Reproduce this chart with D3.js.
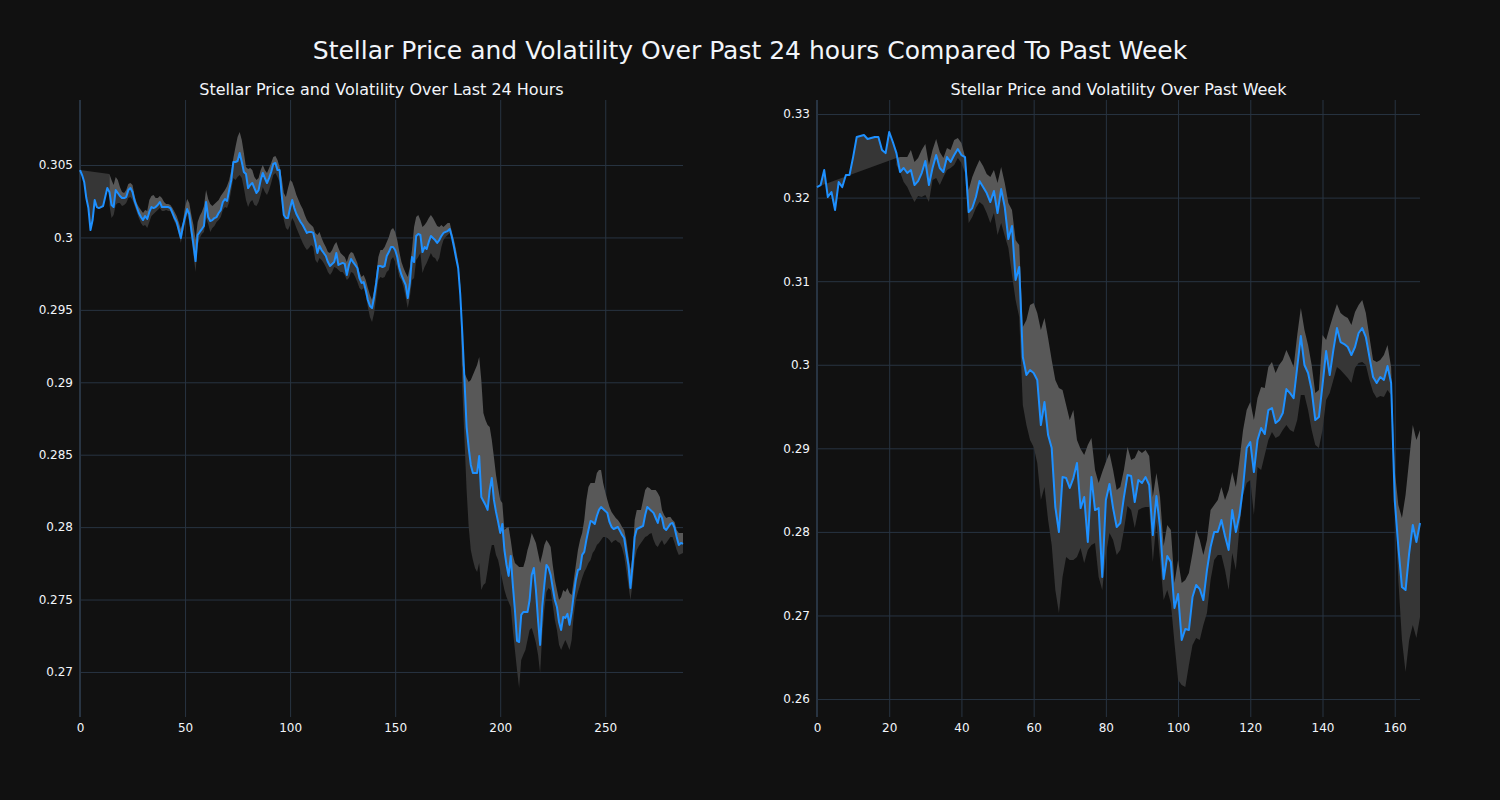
<!DOCTYPE html>
<html><head><meta charset="utf-8">
<script src="https://cdn.jsdelivr.net/npm/d3@7"></script>
<style>html,body{margin:0;background:#111111;}svg{display:block;}</style>
</head><body>
<svg id="chart" width="1500" height="800"></svg>
<script>
const mainTitle = "Stellar Price and Volatility Over Past 24 hours Compared To Past Week";
const dayTitle = "Stellar Price and Volatility Over Last 24 Hours";
const weekTitle = "Stellar Price and Volatility Over Past Week";

const dayXTicks = [0, 50, 100, 150, 200, 250];
const dayYTicks = [0.27, 0.275, 0.28, 0.285, 0.29, 0.295, 0.3, 0.305];
const weekXTicks = [0, 20, 40, 60, 80, 100, 120, 140, 160];
const weekYTicks = [0.26, 0.27, 0.28, 0.29, 0.3, 0.31, 0.32, 0.33];

const dayPrice = [0.30465,0.30431,0.30383,0.30272,0.30203,0.30051,0.30120,0.30258,0.30210,0.30203,
0.30210,0.30217,0.30279,0.30341,0.30314,0.30224,0.30210,0.30327,0.30307,0.30286,
0.30272,0.30272,0.30279,0.30327,0.30341,0.30314,0.30252,0.30210,0.30169,0.30141,
0.30120,0.30148,0.30127,0.30176,0.30210,0.30203,0.30210,0.30224,0.30245,0.30210,
0.30210,0.30210,0.30210,0.30203,0.30169,0.30134,0.30107,0.30051,0.29996,0.30079,
0.30141,0.30196,0.30162,0.30051,0.29948,0.29837,0.30017,0.30038,0.30058,0.30079,
0.30245,0.30141,0.30113,0.30120,0.30134,0.30141,0.30169,0.30189,0.30245,0.30265,
0.30252,0.30327,0.30397,0.30521,0.30521,0.30528,0.30583,0.30521,0.30452,0.30438,
0.30341,0.30362,0.30376,0.30341,0.30307,0.30327,0.30397,0.30445,0.30410,0.30376,
0.30410,0.30452,0.30507,0.30514,0.30465,0.30465,0.30293,0.30155,0.30134,0.30134,
0.30203,0.30258,0.30203,0.30162,0.30134,0.30107,0.30086,0.30058,0.30031,0.30038,
0.30038,0.30031,0.29969,0.29893,0.29941,0.29913,0.29893,0.29872,0.29830,0.29803,
0.29817,0.29830,0.29893,0.29810,0.29817,0.29824,0.29817,0.29741,0.29810,0.29851,
0.29830,0.29810,0.29789,0.29720,0.29686,0.29692,0.29637,0.29568,0.29527,0.29513,
0.29589,0.29686,0.29803,0.29803,0.29796,0.29803,0.29872,0.29899,0.29934,0.29934,
0.29913,0.29865,0.29789,0.29741,0.29706,0.29672,0.29582,0.29686,0.29865,0.29830,
0.30010,0.30024,0.30017,0.29899,0.29934,0.29920,0.29969,0.30010,0.29996,0.29982,
0.29962,0.29982,0.30010,0.30031,0.30038,0.30044,0.30058,0.30003,0.29934,0.29858,
0.29789,0.29603,0.29327,0.29016,0.28691,0.28547,0.28429,0.28374,0.28374,0.28374,
0.28491,0.28208,0.28181,0.28153,0.28119,0.28257,0.28339,0.28188,0.28105,0.28036,
0.27960,0.28022,0.27842,0.27739,0.27663,0.27801,0.27601,0.27428,0.27214,0.27207,
0.27394,0.27414,0.27414,0.27414,0.27497,0.27670,0.27718,0.27566,0.27359,0.27187,
0.27449,0.27601,0.27739,0.27718,0.27670,0.27580,0.27497,0.27449,0.27345,0.27290,
0.27380,0.27373,0.27401,0.27325,0.27414,0.27532,0.27635,0.27704,0.27711,0.27808,
0.27829,0.27911,0.27980,0.28043,0.28036,0.28022,0.28077,0.28119,0.28139,0.28125,
0.28112,0.28098,0.28036,0.28001,0.27987,0.27994,0.28001,0.27974,0.27946,0.27925,
0.27829,0.27739,0.27580,0.27739,0.27932,0.27987,0.27994,0.28001,0.28008,0.28084,
0.28139,0.28125,0.28112,0.28098,0.28063,0.28029,0.28091,0.28063,0.27994,0.27980,
0.28001,0.28022,0.28029,0.27994,0.27932,0.27877,0.27891,0.27884];

const dayUpper = Array(14).fill(null).concat([
0.30438,0.30397,0.30362,0.30417,0.30397,0.30348,
0.30314,0.30307,0.30327,0.30369,0.30376,0.30362,0.30286,0.30238,0.30210,0.30189,
0.30169,0.30189,0.30182,0.30258,0.30286,0.30293,0.30272,0.30272,0.30286,0.30272,
0.30245,0.30231,0.30231,0.30224,0.30203,0.30176,0.30148,0.30107,0.30058,0.30107,
0.30210,0.30265,0.30238,0.30155,0.30086,0.29982,0.30107,0.30148,0.30176,0.30217,
0.30327,0.30265,0.30231,0.30217,0.30231,0.30245,0.30258,0.30286,0.30307,0.30327,
0.30355,0.30397,0.30465,0.30548,0.30624,0.30693,0.30728,0.30673,0.30583,0.30486,
0.30472,0.30479,0.30465,0.30417,0.30397,0.30410,0.30465,0.30500,0.30465,0.30445,
0.30479,0.30514,0.30555,0.30562,0.30535,0.30486,0.30410,0.30307,0.30279,0.30341,
0.30397,0.30383,0.30341,0.30293,0.30258,0.30224,0.30196,0.30155,0.30120,0.30100,
0.30086,0.30072,0.30031,0.30017,0.30038,0.29996,0.29962,0.29934,0.29899,0.29893,
0.29913,0.29948,0.29969,0.29927,0.29893,0.29879,0.29865,0.29830,0.29879,0.29899,
0.29893,0.29858,0.29824,0.29761,0.29727,0.29741,0.29706,0.29651,0.29603,0.29568,
0.29637,0.29741,0.29865,0.29913,0.29913,0.29934,0.29969,0.30003,0.30051,0.30065,
0.30038,0.29982,0.29899,0.29830,0.29789,0.29755,0.29727,0.29796,0.29913,0.30072,
0.30141,0.30155,0.30120,0.30072,0.30086,0.30107,0.30134,0.30155,0.30134,0.30107,
0.30079,0.30072,0.30086,0.30072,0.30086,0.30100,0.30100,0.30038,0.29982,0.29913,
0.29830,0.29672,0.29119,0.29064,0.29030,0.29002,0.29016,0.29050,0.29085,0.29119,
0.29175,0.29016,0.28788,0.28740,0.28705,0.28691,0.28602,0.28484,0.28360,0.28270,
0.28188,0.28167,0.27980,0.27994,0.28001,0.27911,0.27808,0.27753,0.27739,0.27725,
0.27725,0.27725,0.27773,0.27842,0.27891,0.27960,0.27925,0.27891,0.27822,0.27753,
0.27808,0.27877,0.27911,0.27891,0.27863,0.27739,0.27635,0.27566,0.27497,0.27518,
0.27566,0.27552,0.27580,0.27545,0.27532,0.27635,0.27739,0.27842,0.27911,0.27960,
0.28050,0.28188,0.28277,0.28305,0.28305,0.28305,0.28374,0.28395,0.28395,0.28305,
0.28243,0.28188,0.28139,0.28105,0.28084,0.28063,0.28050,0.28029,0.28001,0.27980,
0.27911,0.27808,0.27704,0.27808,0.28050,0.28119,0.28119,0.28119,0.28188,0.28257,
0.28277,0.28270,0.28257,0.28257,0.28257,0.28236,0.28208,0.28119,0.28084,0.28063,
0.28070,0.28070,0.28050,0.28036,0.27980,0.27960,0.27960,0.27960]);

const dayLower = Array(14).fill(null).concat([
0.30224,0.30134,0.30155,0.30224,0.30238,0.30238,
0.30217,0.30224,0.30238,0.30272,0.30279,0.30258,0.30217,0.30176,0.30134,0.30100,
0.30079,0.30086,0.30065,0.30107,0.30148,0.30162,0.30176,0.30189,0.30203,0.30182,
0.30182,0.30189,0.30182,0.30182,0.30148,0.30107,0.30079,0.30024,0.29962,0.30038,
0.30093,0.30162,0.30107,0.29996,0.29879,0.29761,0.29948,0.29996,0.30024,0.30038,
0.30134,0.30093,0.30038,0.30065,0.30079,0.30107,0.30120,0.30141,0.30189,0.30210,
0.30203,0.30245,0.30327,0.30410,0.30397,0.30417,0.30431,0.30410,0.30341,0.30258,
0.30210,0.30245,0.30258,0.30224,0.30217,0.30245,0.30293,0.30348,0.30314,0.30293,
0.30327,0.30376,0.30431,0.30445,0.30417,0.30383,0.30258,0.30120,0.30065,0.30051,
0.30086,0.30134,0.30107,0.30065,0.30031,0.29996,0.29962,0.29934,0.29913,0.29927,
0.29948,0.29934,0.29844,0.29824,0.29858,0.29844,0.29824,0.29796,0.29761,0.29741,
0.29761,0.29796,0.29789,0.29775,0.29761,0.29761,0.29741,0.29706,0.29720,0.29761,
0.29755,0.29727,0.29692,0.29651,0.29637,0.29651,0.29603,0.29520,0.29451,0.29416,
0.29478,0.29589,0.29706,0.29727,0.29720,0.29727,0.29761,0.29775,0.29844,0.29865,
0.29830,0.29796,0.29727,0.29706,0.29658,0.29589,0.29513,0.29589,0.29706,0.29720,
0.29844,0.29865,0.29893,0.29755,0.29796,0.29824,0.29858,0.29893,0.29865,0.29858,
0.29830,0.29858,0.29934,0.29982,0.30003,0.30017,0.30031,0.29996,0.29948,0.29865,
0.29775,0.29568,0.28947,0.28602,0.28257,0.28001,0.27842,0.27773,0.27718,0.27690,
0.27753,0.27566,0.27601,0.27615,0.27704,0.27808,0.27877,0.27877,0.27808,0.27773,
0.27704,0.27635,0.27566,0.27518,0.27483,0.27449,0.27290,0.27152,0.27014,0.26890,
0.27083,0.27118,0.27152,0.27221,0.27290,0.27304,0.27256,0.27200,0.27118,0.26993,
0.27256,0.27428,0.27552,0.27580,0.27566,0.27463,0.27359,0.27290,0.27187,0.27152,
0.27187,0.27221,0.27187,0.27152,0.27221,0.27394,0.27497,0.27552,0.27601,0.27649,
0.27690,0.27718,0.27753,0.27773,0.27822,0.27842,0.27877,0.27891,0.27911,0.27932,
0.27932,0.27925,0.27911,0.27891,0.27904,0.27911,0.27898,0.27891,0.27856,0.27801,
0.27704,0.27601,0.27497,0.27615,0.27773,0.27842,0.27870,0.27891,0.27911,0.27932,
0.27939,0.27953,0.27960,0.27911,0.27877,0.27863,0.27891,0.27911,0.27877,0.27891,
0.27911,0.27932,0.27932,0.27891,0.27842,0.27808,0.27815,0.27822]);

const weekPrice = [0.32126,0.32150,0.32330,0.32007,0.32067,0.31851,0.32186,0.32126,0.32270,0.32270,
0.32485,0.32725,0.32737,0.32749,0.32701,0.32713,0.32725,0.32725,0.32569,0.32533,
0.32785,0.32665,0.32533,0.32306,0.32354,0.32294,0.32330,0.32150,0.32198,0.32294,
0.32438,0.32150,0.32354,0.32509,0.32354,0.32306,0.32485,0.32426,0.32509,0.32581,
0.32509,0.32485,0.31827,0.31875,0.32007,0.32198,0.32126,0.32055,0.31947,0.32079,
0.31815,0.32102,0.31887,0.31504,0.31660,0.31014,0.31169,0.30092,0.29877,0.29937,
0.29901,0.29818,0.29278,0.29554,0.29159,0.29003,0.28297,0.27998,0.28656,0.28644,
0.28525,0.28644,0.28824,0.28285,0.28417,0.27879,0.28656,0.28261,0.28285,0.27460,
0.28381,0.28573,0.28285,0.28058,0.28106,0.28417,0.28680,0.28668,0.28357,0.28621,
0.28585,0.28656,0.28561,0.27962,0.28429,0.28058,0.27436,0.27711,0.27639,0.27089,
0.27256,0.26706,0.26838,0.26826,0.27220,0.27364,0.27316,0.27184,0.27543,0.27819,
0.27998,0.27998,0.28142,0.27950,0.27783,0.28261,0.27998,0.28202,0.28537,0.29003,
0.29075,0.28716,0.29099,0.29243,0.29171,0.29458,0.29482,0.29302,0.29338,0.29422,
0.29709,0.29661,0.29601,0.29973,0.30344,0.29997,0.29901,0.29697,0.29338,0.29374,
0.29757,0.30164,0.29877,0.30176,0.30439,0.30272,0.30248,0.30212,0.30116,0.30212,
0.30380,0.30439,0.30332,0.30092,0.29853,0.29781,0.29853,0.29818,0.29985,0.29781,
0.28381,0.27819,0.27340,0.27304,0.27747,0.28082,0.27879,0.28106];

const weekUpper = Array(22).fill(null).concat([
0.32474,0.32485,0.32485,0.32485,0.32569,0.32426,0.32474,0.32569,
0.32641,0.32390,0.32569,0.32701,0.32545,0.32474,0.32593,0.32569,0.32689,0.32713,
0.32653,0.32485,0.32091,0.32246,0.32354,0.32450,0.32378,0.32282,0.32246,0.32330,
0.32174,0.32366,0.32174,0.31935,0.31851,0.31492,0.31432,0.30451,0.30535,0.30714,
0.30738,0.30619,0.30415,0.30559,0.30320,0.30056,0.29818,0.29721,0.29697,0.29518,
0.29338,0.29458,0.29099,0.28991,0.28920,0.29039,0.29123,0.28740,0.28585,0.28716,
0.28836,0.28944,0.28740,0.28501,0.28537,0.28740,0.29015,0.28860,0.28884,0.28979,
0.28944,0.28979,0.28908,0.28417,0.28704,0.28417,0.27831,0.28082,0.28022,0.27388,
0.27663,0.27388,0.27424,0.27508,0.27747,0.28022,0.27902,0.27723,0.27902,0.28261,
0.28321,0.28381,0.28537,0.28381,0.28501,0.28716,0.28537,0.28860,0.29219,0.29458,
0.29554,0.29338,0.29601,0.29733,0.29721,0.29973,0.30033,0.29901,0.29997,0.30056,
0.30176,0.30080,0.29973,0.30355,0.30679,0.30415,0.30236,0.29997,0.29661,0.29697,
0.30355,0.30296,0.30451,0.30595,0.30726,0.30619,0.30583,0.30559,0.30475,0.30631,
0.30714,0.30774,0.30619,0.30332,0.30056,0.30033,0.30056,0.30116,0.30236,0.29973,
0.28740,0.28321,0.28166,0.28441,0.28860,0.29279,0.29099,0.29219]);

const weekLower = Array(22).fill(null).concat([
0.32390,0.32306,0.32186,0.32126,0.32031,0.31947,0.32019,0.32007,
0.32031,0.31947,0.32210,0.32234,0.32150,0.32246,0.32330,0.32354,0.32390,0.32474,
0.32414,0.32294,0.31696,0.31768,0.31875,0.31947,0.31911,0.31815,0.31696,0.31815,
0.31552,0.31696,0.31540,0.31397,0.31073,0.30774,0.30571,0.29518,0.29278,0.29099,
0.29015,0.28824,0.28381,0.28537,0.28142,0.27843,0.27304,0.27029,0.27460,0.27699,
0.27663,0.27663,0.27699,0.27807,0.27627,0.27783,0.27843,0.27867,0.27460,0.27304,
0.27723,0.27986,0.27902,0.27723,0.27783,0.28022,0.28309,0.28261,0.28046,0.28261,
0.28285,0.28297,0.28297,0.27639,0.28118,0.27663,0.27184,0.27304,0.27148,0.26670,
0.26227,0.26168,0.26144,0.26407,0.26646,0.26730,0.26706,0.26885,0.27029,0.27424,
0.27663,0.27723,0.27723,0.27543,0.27304,0.27747,0.27543,0.28058,0.28441,0.28585,
0.28621,0.28202,0.28776,0.28740,0.28920,0.29099,0.29195,0.29123,0.29147,0.29219,
0.29279,0.29219,0.29195,0.29338,0.29637,0.29637,0.29458,0.29219,0.29039,0.29003,
0.29219,0.29578,0.29661,0.29817,0.29973,0.29937,0.29889,0.29841,0.29781,0.29961,
0.30020,0.30033,0.29997,0.29817,0.29674,0.29601,0.29625,0.29613,0.29697,0.29637,
0.28381,0.27424,0.26706,0.26323,0.26706,0.26885,0.26730,0.26981]);

const svg = d3.select("#chart");
const FONT = "'DejaVu Sans', Verdana, sans-serif";
const TXT = "#f2f5fa";
const GRID = "#283442";
const LIGHT = "#585858";
const DARK = "#363636";
const LINE = "#1e90ff";

svg.append("rect").attr("width", 1500).attr("height", 800).attr("fill", "#111111");

svg.append("text").attr("x", 750).attr("y", 50)
  .attr("text-anchor", "middle").attr("dominant-baseline", "central")
  .attr("font-family", FONT).attr("font-size", 25).attr("fill", TXT)
  .text(mainTitle);

function panel(cfg) {
  const n = cfg.price.length;
  const x = d3.scaleLinear().domain([0, n - 1]).range([cfg.left, cfg.right]);
  const y = d3.scaleLinear().domain(cfg.yDomain).range([717, 100]);
  const g = svg.append("g");
  const h = 717 - 100;

  const ya = g.append("g").attr("transform", `translate(${cfg.left},0)`)
    .call(d3.axisLeft(y).tickValues(cfg.yTicks).tickSize(-(cfg.right - cfg.left)).tickPadding(7)
      .tickFormat(d => String(+d.toFixed(3))));
  const xa = g.append("g").attr("transform", `translate(0,717)`)
    .call(d3.axisBottom(x).tickValues(cfg.xTicks).tickSize(h).tickPadding(6));
  xa.selectAll(".tick line").attr("y1", 0).attr("y2", -h);
  xa.selectAll(".tick text").attr("y", 6);
  [ya, xa].forEach(a => {
    a.select(".domain").remove();
    a.selectAll(".tick line").attr("stroke", GRID).attr("stroke-width", 1);
    a.selectAll(".tick text").attr("fill", TXT).attr("font-size", 12).attr("font-family", FONT);
  });
  g.append("line").attr("x1", x(0)).attr("x2", x(0)).attr("y1", 100).attr("y2", 717)
    .attr("stroke", GRID).attr("stroke-width", 2);

  const pts = cfg.price.map((p, i) => ({i, p, u: cfg.upper[i], l: cfg.lower[i]}));
  const band = pts.filter(d => d.u != null);
  const k = band[0].i;

  const initPts = [{i: 0, v: cfg.price[0]}, {i: k, v: cfg.upper[k]}]
    .concat(pts.slice(0, k + 1).reverse().map(d => ({i: d.i, v: d.p})));
  g.append("path").datum(initPts)
    .attr("d", d3.line().x(d => x(d.i)).y(d => y(d.v)))
    .attr("fill", DARK).attr("stroke", "none");

  g.append("path").datum(band)
    .attr("d", d3.area().x(d => x(d.i)).y0(d => y(d.p)).y1(d => y(d.l)))
    .attr("fill", DARK);
  g.append("path").datum(band)
    .attr("d", d3.area().x(d => x(d.i)).y0(d => y(d.u)).y1(d => y(d.p)))
    .attr("fill", LIGHT);

  g.append("path").datum(pts)
    .attr("d", d3.line().x(d => x(d.i)).y(d => y(d.p)))
    .attr("fill", "none").attr("stroke", LINE).attr("stroke-width", 2)
    .attr("stroke-linejoin", "round");

  g.append("text").attr("x", (cfg.left + cfg.right) / 2).attr("y", 89)
    .attr("text-anchor", "middle").attr("dominant-baseline", "central")
    .attr("font-family", FONT).attr("font-size", 16).attr("fill", TXT)
    .text(cfg.title);
}

panel({left: 80, right: 683, yDomain: [0.26689, 0.30949], price: dayPrice, upper: dayUpper,
  lower: dayLower, xTicks: dayXTicks, yTicks: dayYTicks, title: dayTitle});
panel({left: 817, right: 1420, yDomain: [0.25785, 0.33168], price: weekPrice, upper: weekUpper,
  lower: weekLower, xTicks: weekXTicks, yTicks: weekYTicks, title: weekTitle});
</script>
</body></html>
